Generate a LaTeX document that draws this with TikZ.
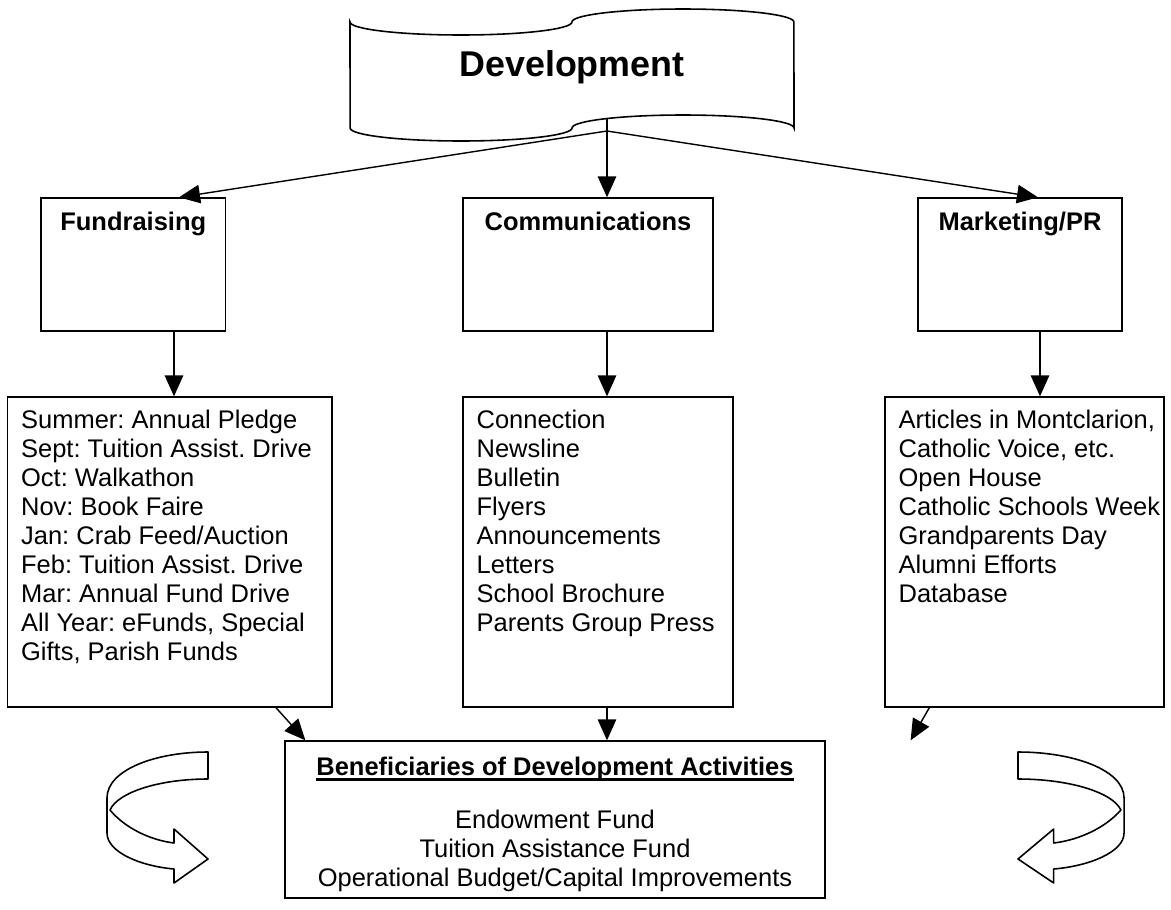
\documentclass[tikz,border=0pt]{standalone}
\usepackage{fontspec}
\setmainfont{Liberation Sans}
\frenchspacing
\newcommand\headline[1]{\leavevmode\setbox0\hbox{#1}\rlap{\raisebox{-3.2pt}{\rule{\wd0}{1.3pt}}}\box0}
\usetikzlibrary{arrows.meta}

\begin{document}
\begin{tikzpicture}[x=0.02cm, y=-0.02cm,
    box/.style={draw, line width=0.8pt, inner sep=0pt},
    head/.style={font=\bfseries\fontsize{14.5}{16.5}\selectfont, anchor=north, inner sep=0pt},
    items/.style={font=\fontsize{14.5}{16.5}\selectfont, align=left, anchor=north west, inner sep=0pt},
    arrow/.style={-{Triangle[length=0.42cm, width=0.37cm]}, line width=0.8pt},
    uturn/.pic={
      \draw[line width=0.9pt, line join=round] (0,0) .. controls (-53,0) and (-101,18) .. (-101,46)
        -- (-101,81) .. controls (-101,100) and (-68,114) .. (-34,117)
        -- (-34,131) -- (0,107) -- (-34,77) -- (-34,91)
        .. controls (-58,88) and (-83,76) .. (-98,58)
        .. controls (-90,40) and (-48,27) .. (0,27) -- cycle;
    }
  ]
  \useasboundingbox (0,0) rectangle (1171,910);

  % punched tape on top
  \draw[line width=0.9pt] (350,22)
    arc[start angle=180, end angle=360, x radius=2.22cm, y radius=0.26cm]
    arc[start angle=180, end angle=0, x radius=2.22cm, y radius=0.26cm]
    -- (794,128)
    arc[start angle=0, end angle=180, x radius=2.22cm, y radius=0.26cm]
    arc[start angle=0, end angle=-180, x radius=2.22cm, y radius=0.26cm]
    -- cycle;
  \node[font=\bfseries\fontsize{20.4}{24}\selectfont] (dev) at (572,67) {Development};
  \coordinate (devout) at (607,118.5);
  \coordinate (devjoin) at (607,131);

  % the three areas
  \node[box, minimum width=3.69cm, minimum height=2.66cm] (fund) at (133.25,264.5) {};
  \node[box, minimum width=5cm, minimum height=2.66cm] (comm) at (588,264.5) {};
  \node[box, minimum width=4.08cm, minimum height=2.66cm] (mark) at (1020,264.5) {};
  \node[head] (fundt) at ([yshift=-0.28cm]fund.north) {Fundraising};
  \node[head] (commt) at ([yshift=-0.28cm]comm.north) {Communications};
  \node[head] (markt) at ([yshift=-0.28cm]mark.north) {Marketing/PR};

  % activities
  \node[box, minimum width=6.49cm, minimum height=6.2cm] (fundlist) at (169.75,552) {};
  \node[box, minimum width=5.4cm, minimum height=6.2cm] (commlist) at (598,552) {};
  \node[box, minimum width=5.58cm, minimum height=6.2cm] (marklist) at (1024.5,552) {};
  \node[items] (fundtxt) at ([xshift=0.28cm, yshift=-0.26cm]fundlist.north west)
    {Summer: Annual Pledge\\ Sept: Tuition Assist. Drive\\ Oct: Walkathon\\ Nov: Book Faire\\
     Jan: Crab Feed/Auction\\ Feb: Tuition Assist. Drive\\ Mar: Annual Fund Drive\\
     All Year: eFunds, Special\\ Gifts, Parish Funds};
  \node[items] (commtxt) at ([xshift=0.28cm, yshift=-0.26cm]commlist.north west)
    {Connection\\ Newsline\\ Bulletin\\ Flyers\\ Announcements\\ Letters\\ School Brochure\\
     Parents Group Press};
  \node[items] (marktxt) at ([xshift=0.28cm, yshift=-0.26cm]marklist.north west)
    {Articles in Montclarion,\\ Catholic Voice, etc.\\ Open House\\ Catholic Schools Week\\
     Grandparents Day\\ Alumni Efforts\\ Database};

  % beneficiaries
  \node[box, minimum width=10.8cm, minimum height=3.14cm] (benef) at (555,819.5) {};
  \node[items, anchor=north, align=center] (beneftxt) at ([yshift=-0.32cm]benef.north)
    {\headline{\textbf{Beneficiaries of Development Activities}}\\[0.48cm]
     Endowment Fund\\ Tuition Assistance Fund\\ Operational Budget/Capital Improvements};

  % connectors
  \coordinate (fundarr) at ([xshift=0.815cm]fund.south);
  \coordinate (markarr) at ([xshift=0.4cm]mark.south);
  \draw[arrow] (devout) -- (devout |- comm.north);
  \draw[arrow] (devjoin) -- ([xshift=0.915cm]fund.north);
  \draw[arrow] (devjoin) -- ([xshift=0.36cm]mark.north);
  \draw[arrow] (fundarr) -- (fundarr |- fundlist.north);
  \draw[arrow] (devout |- comm.south) -- (devout |- commlist.north);
  \draw[arrow] (markarr) -- (markarr |- marklist.north);
  \draw[arrow] ([xshift=2.125cm]fundlist.south) -- ([xshift=0.42cm]benef.north west);
  \draw[arrow] (devout |- commlist.south) -- (devout |- benef.north);
  \draw[arrow] ([xshift=0.9cm]marklist.south west) -- ([xshift=1.7cm]benef.north east);

  % u-turn arrows
  \pic at (208,752) {uturn};
  \pic[xscale=-1.05] at (1018,752) {uturn};
\end{tikzpicture}
\end{document}
